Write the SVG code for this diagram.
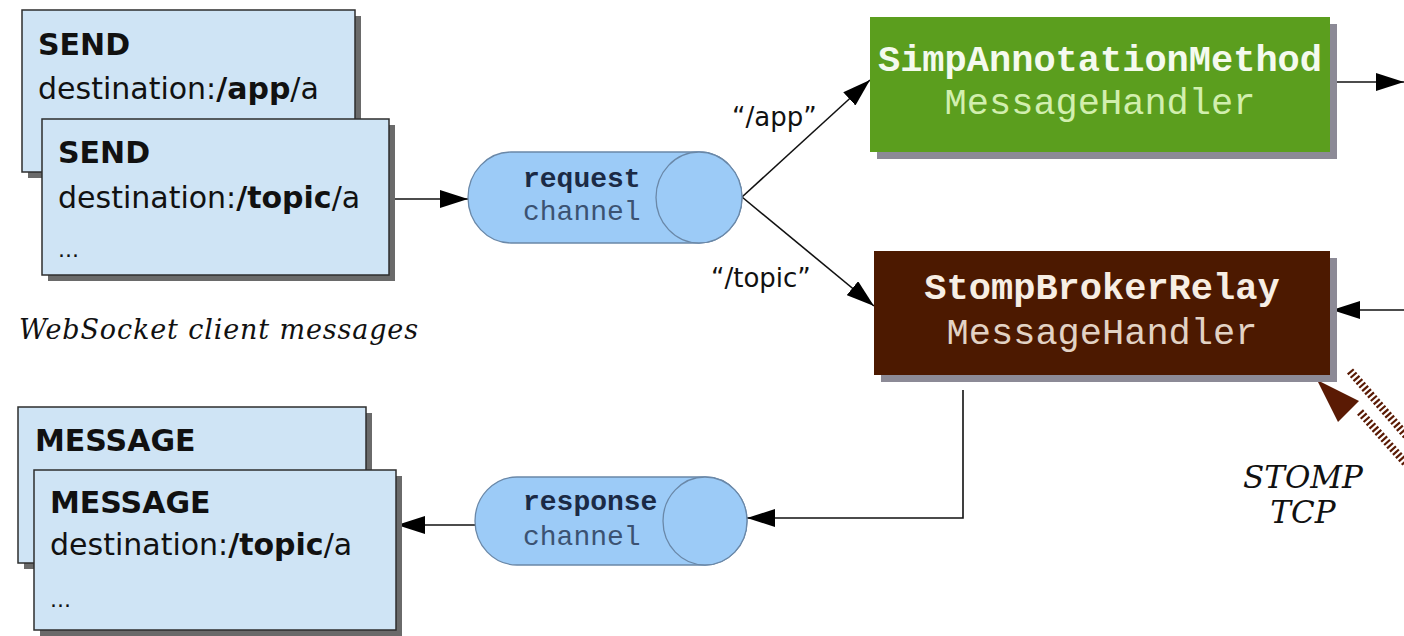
<svg xmlns="http://www.w3.org/2000/svg" width="1404" height="636" viewBox="0 0 1404 636">
<defs>
<style>
.box{fill:#cfe4f5;stroke:#2e2e2e;stroke-width:1.5}
.shadow{fill:#6a6a6a}
.hshadow{fill:#8c8a96}
.cf{font-family:"DejaVu Sans",sans-serif;font-size:30px;fill:#111}
.b{font-weight:bold}
.mono{font-family:"Liberation Mono","Courier New",monospace}
.chan{fill:#9ccbf7;stroke:#6a88a8;stroke-width:1.3}
.conn{stroke:#111;stroke-width:1.6;fill:none}
.lbl{font-family:"DejaVu Sans",sans-serif;font-size:26px;fill:#111}
.it{font-family:"DejaVu Serif",serif;font-style:italic;fill:#111}
.hatch{stroke:#5a1a04;stroke-width:8;stroke-dasharray:2.2 2.2;fill:none}
</style>
<marker id="arr" viewBox="0 0 28 18" refX="28" refY="9" markerWidth="28" markerHeight="18" markerUnits="userSpaceOnUse" orient="auto">
<path d="M0,0 L28,9 L0,18 Z" fill="#000"/>
</marker>
</defs>
<rect width="1404" height="636" fill="#fff"/>

<g id="connectors">
<line class="conn" x1="389" y1="199" x2="468" y2="199" marker-end="url(#arr)"/>
<line class="conn" x1="742" y1="197" x2="870" y2="80" marker-end="url(#arr)"/>
<line class="conn" x1="742" y1="197" x2="874" y2="306" marker-end="url(#arr)"/>
<line class="conn" x1="1337" y1="82" x2="1404" y2="82" marker-end="url(#arr)"/>
<line class="conn" x1="1404" y1="310" x2="1332" y2="310" marker-end="url(#arr)"/>
<polyline class="conn" points="963,390 963,518 747,518" marker-end="url(#arr)"/>
<line class="conn" x1="475" y1="525" x2="397" y2="525" marker-end="url(#arr)"/>
<g id="stomp-tcp-arrow">
<line class="hatch" x1="1350" y1="371" x2="1410" y2="440"/>
<line class="hatch" x1="1360" y1="412" x2="1410" y2="468"/>
<polygon points="1317,380 1338,422 1359,401" fill="#5a1a04"/>
</g>
<text class="lbl" x="732" y="126">“/app”</text>
<text class="lbl" x="711" y="287">“/topic”</text>
</g>

<g id="send-app">
<rect class="shadow" x="28" y="16" width="333" height="162"/>
<rect class="box" x="22" y="10" width="333" height="162"/>
<text class="cf b" x="38" y="55">SEND</text>
<text class="cf" x="38" y="99">destination:<tspan class="b">/app</tspan>/a</text>
</g>

<g id="send-topic">
<rect class="shadow" x="48" y="125" width="347" height="156"/>
<rect class="box" x="42" y="119" width="347" height="156"/>
<text class="cf b" x="58" y="163">SEND</text>
<text class="cf" x="58" y="208">destination:<tspan class="b">/topic</tspan>/a</text>
<text class="cf" x="58" y="257" style="font-size:22px">...</text>
</g>

<g id="websocket-label">
<text class="it" x="19" y="339" font-size="27" textLength="399" lengthAdjust="spacing">WebSocket client messages</text>
</g>

<g id="message-back">
<rect class="shadow" x="24" y="413" width="348" height="156"/>
<rect class="box" x="18" y="407" width="348" height="156"/>
<text class="cf b" x="35" y="451">MESSAGE</text>
</g>

<g id="message-front">
<rect class="shadow" x="40" y="476" width="362" height="160"/>
<rect class="box" x="34" y="470" width="362" height="160"/>
<text class="cf b" x="50" y="513">MESSAGE</text>
<text class="cf" x="50" y="555">destination:<tspan class="b">/topic</tspan>/a</text>
<text class="cf" x="50" y="607" style="font-size:22px">...</text>
</g>

<g id="request-channel">
<path class="chan" d="M511,152 H699 A43,45.5 0 0 1 699,243 H511 A43,45.5 0 0 1 511,152 Z"/>
<ellipse class="chan" cx="699" cy="197.5" rx="43" ry="45.5"/>
<text class="mono b" x="523" y="187" font-size="28" fill="#1b2a45">request</text>
<text class="mono" x="523" y="220" font-size="28" fill="#3b5272">channel</text>
</g>

<g id="response-channel">
<path class="chan" d="M517,477 H705 A42,44 0 0 1 705,565 H517 A42,44 0 0 1 517,477 Z"/>
<ellipse class="chan" cx="705" cy="521" rx="42" ry="44"/>
<text class="mono b" x="523" y="510" font-size="28" fill="#1b2a45">response</text>
<text class="mono" x="523" y="545" font-size="28" fill="#3b5272">channel</text>
</g>

<g id="simp-annotation">
<rect class="hshadow" x="877" y="24" width="460" height="135"/>
<rect x="870" y="17" width="460" height="135" fill="#5b9e1e"/>
<text class="mono b" x="1100" y="71" font-size="37" fill="#f4faee" text-anchor="middle">SimpAnnotationMethod</text>
<text class="mono" x="1100" y="114" font-size="37" fill="#d2efae" text-anchor="middle">MessageHandler</text>
</g>

<g id="stomp-broker-relay">
<rect class="hshadow" x="881" y="258" width="456" height="124"/>
<rect x="874" y="251" width="456" height="124" fill="#4c1900"/>
<text class="mono b" x="1102" y="299" font-size="37" fill="#f7eee4" text-anchor="middle">StompBrokerRelay</text>
<text class="mono" x="1102" y="344" font-size="37" fill="#e2d2c4" text-anchor="middle">MessageHandler</text>
</g>

<g id="stomp-tcp-label">
<text class="it" x="1303" y="488" font-size="31" text-anchor="middle">STOMP</text>
<text class="it" x="1303" y="523" font-size="31" text-anchor="middle">TCP</text>
</g>
</svg>
